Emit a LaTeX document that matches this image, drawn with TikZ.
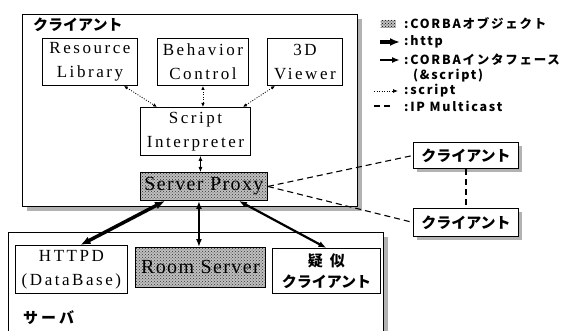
\documentclass[tikz,border=0pt]{standalone}
\usepackage{fontspec}
\setmainfont{Liberation Serif}
\newfontfamily\boxfont[LetterSpace=15]{Liberation Serif}
\newfontfamily\jpfont{Noto Sans CJK JP}
\newfontfamily\legfont[LetterSpace=14]{Noto Sans CJK JP}
\usetikzlibrary{arrows.meta, positioning, patterns, shadows}

\begin{document}
\begin{tikzpicture}[x=1pt, y=-1pt,
  frame/.style={draw, line width=0.8pt, fill=white, anchor=north west, inner sep=0pt,
    general shadow={shadow xshift=5pt, shadow yshift=-5pt, fill=gray!60}},
  box/.style={draw, line width=0.9pt, fill=white, anchor=north west, inner sep=0pt, align=center,
    font=\boxfont\fontsize{17}{24}\selectfont},
  corba/.style={box, preaction={fill=gray!50}, pattern=crosshatch dots, pattern color=black!80,
    font=\boxfont\fontsize{20}{24}\selectfont\addfontfeature{LetterSpace=7}},
  jpbox/.style={box, font=\jpfont\bfseries\fontsize{15}{21}\selectfont},
  client/.style={jpbox, general shadow={shadow xshift=4pt, shadow yshift=-4pt, fill=gray!60}},
  legtext/.style={anchor=west, inner sep=0pt, align=left, font=\legfont\bfseries\fontsize{12.5}{16}\selectfont},
  http/.style={{Latex[length=10pt,width=8pt]}-{Latex[length=10pt,width=8pt]}, line width=3.5pt},
  iface/.style={{Latex[length=8pt,width=6pt]}-{Latex[length=8pt,width=6pt]}, line width=2.2pt},
  ifthin/.style={{Latex[length=5pt,width=4pt]}-{Latex[length=5pt,width=4pt]}, line width=0.8pt},
  scr/.style={{Latex[length=4pt,width=3.5pt]}-{Latex[length=4pt,width=3.5pt]}, line width=0.8pt, dash pattern=on 1pt off 1.5pt},
  mcast/.style={line width=1.1pt, dash pattern=on 6pt off 4pt}
]
\useasboundingbox (0,0) rectangle (567,331);

\node[frame, minimum width=335pt, minimum height=192pt] (clientframe) at (22,14) {};
\node[anchor=west, inner sep=0pt, font=\jpfont\bfseries\fontsize{15}{18}\selectfont] (clientlbl) at (33,25) {クライアント};
\node[frame, minimum width=375pt, minimum height=104pt] (serverframe) at (8,232) {};
\node[anchor=west, inner sep=0pt, font=\jpfont\bfseries\fontsize{15}{18}\selectfont\addfontfeature{LetterSpace=20}] (serverlbl) at (23,318) {サーバ};

\node[box, minimum width=95pt, minimum height=47pt] (reslib) at (42,38) {Resource\\Library};
\node[box, minimum width=91pt, minimum height=47pt] (behav) at (157,38) {Behavior\\Control};
\node[box, minimum width=75pt, minimum height=47pt] (viewer) at (267,38) {3D\\Viewer};
\node[box, minimum width=110pt, minimum height=48pt] (script) at (140,107) {Script\\Interpreter};
\node[corba, minimum width=127pt, minimum height=28pt] (proxy) at (140,172) {Server Proxy};

\node[box, minimum width=112pt, minimum height=48pt] (httpd) at (15,245) {HTTPD\\(DataBase)};
\node[corba, minimum width=130pt, minimum height=40pt] (room) at (135,247) {Room Server};
\node[jpbox, minimum width=108pt, minimum height=45pt] (pseudo) at (272,248) {疑\hspace{7pt}似\\クライアント};

\node[client, minimum width=105pt, minimum height=26pt] (peerA) at (413,142) {クライアント};
\node[client, minimum width=105pt, minimum height=28pt] (peerB) at (413,208) {クライアント};

\draw[scr] ([xshift=-14pt]reslib.south east) -- ([xshift=17pt]script.north west);
\draw[scr] (behav.south) -- (behav.south |- script.north);
\draw[scr] ([xshift=8pt]viewer.south west) -- ([xshift=-8pt]script.north east);
\draw[ifthin] ([xshift=5pt]script.south) -- ([xshift=5pt]script.south |- proxy.north);
\draw[http] ([xshift=25pt]proxy.south west) -- ([xshift=9pt]httpd.north);
\draw[iface] ([xshift=-5pt]proxy.south) -- ([xshift=-5pt]proxy.south |- room.north);
\draw[iface] ([xshift=-29pt]proxy.south east) -- (pseudo.north);
\draw[mcast] (proxy.east) -- (peerA.west);
\draw[mcast] (proxy.east) -- (peerB.west);
\draw[mcast] (peerA.south) -- (peerB.north);

\node[inner sep=0pt, minimum width=15pt, minimum height=8pt, preaction={fill=gray!50}, pattern=crosshatch dots] (keycorba) at (388,24) {};
\node[legtext] (txcorba) at (404,24) {:CORBAオブジェクト};
\coordinate (h1) at (380,42);
\coordinate (h2) at (400,42);
\draw[http, -{Latex[length=10pt,width=8pt]}] (h1) -- (h2);
\node[legtext] (txhttp) at (404,42) {:http};
\coordinate (c1) at (380,60);
\coordinate (c2) at (400,60);
\draw[iface, -{Latex[length=8pt,width=6pt]}] (c1) -- (c2);
\node[legtext] (txiface) at (404,60) {:CORBAインタフェース};
\node[legtext] (txamp) at (413,76) {(\&script)};
\coordinate (s1) at (374,91);
\coordinate (s2) at (398,91);
\draw[scr, -{Latex[length=5pt,width=4pt]}] (s1) -- (s2);
\node[legtext] (txscr) at (404,91) {:script};
\coordinate (m1) at (374,106);
\coordinate (m2) at (392,106);
\draw[mcast] (m1) -- (m2);
\node[legtext] (txmcast) at (404,106) {:IP Multicast};
\end{tikzpicture}
\end{document}
